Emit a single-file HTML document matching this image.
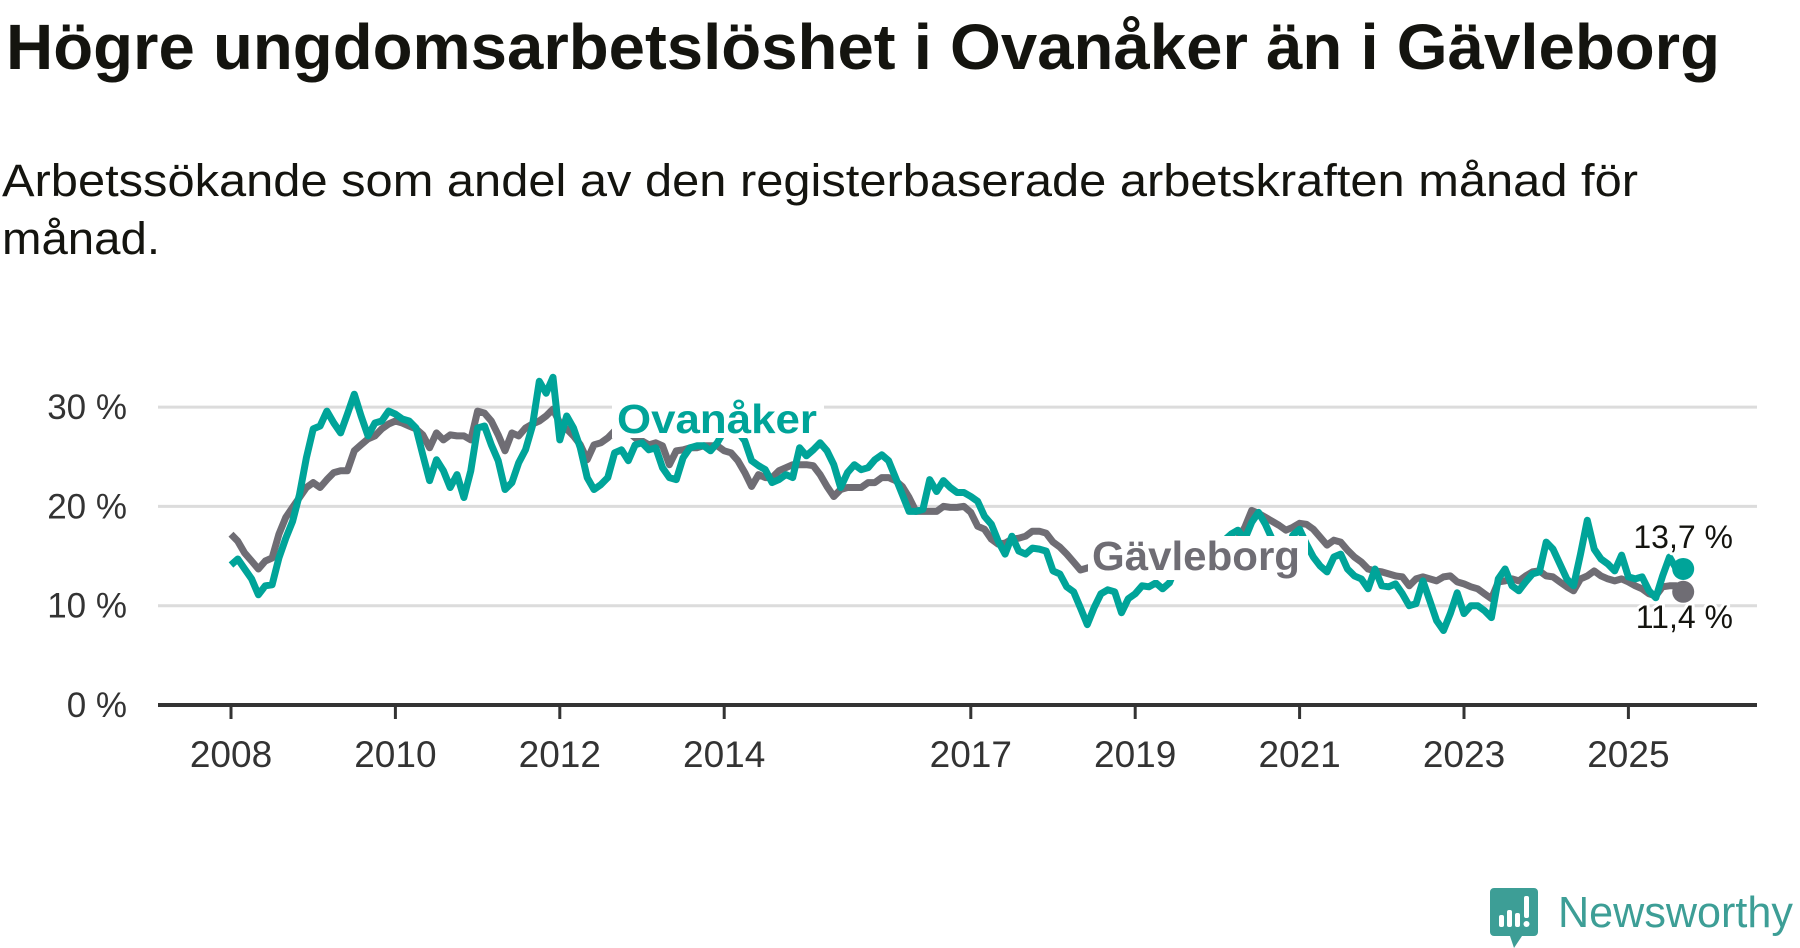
<!DOCTYPE html>
<html><head><meta charset="utf-8">
<style>
html,body{margin:0;padding:0;background:#fff;width:1800px;height:948px;overflow:hidden;}
svg{display:block;font-family:"Liberation Sans",sans-serif;}
</style></head>
<body>
<svg id="chart" width="1800" height="948" viewBox="0 0 1800 948">
  <text x="6" y="69" font-size="64" font-weight="bold" fill="#14140f" textLength="1714" lengthAdjust="spacingAndGlyphs">Högre ungdomsarbetslöshet i Ovanåker än i Gävleborg</text>
  <text x="2" y="196" font-size="45" fill="#14140f" textLength="1636" lengthAdjust="spacingAndGlyphs">Arbetssökande som andel av den registerbaserade arbetskraften månad för</text>
  <text x="2" y="254" font-size="45" fill="#14140f" textLength="158" lengthAdjust="spacingAndGlyphs">månad.</text>
  <g id="grid"></g>
  <g id="yticks"></g>
  <g id="xaxis"></g>
  <g id="series"></g>
  <g id="labels"></g>
  <g>
    <path d="M1494 888 h40 a4 4 0 0 1 4 4 v40 a4 4 0 0 1 -4 4 h-12 l-8 12 l-4 -12 h-16 a4 4 0 0 1 -4 -4 v-40 a4 4 0 0 1 4 -4z" fill="#3d9e96"/>
    <rect x="1499" y="915" width="5" height="12" rx="2" fill="#fff"/>
    <rect x="1507" y="910" width="5" height="17" rx="2" fill="#fff"/>
    <rect x="1515" y="913" width="5" height="14" rx="2" fill="#fff"/>
    <rect x="1524" y="896" width="5" height="22" rx="2" fill="#fff"/>
    <circle cx="1526.5" cy="924" r="3" fill="#fff"/>
    <text x="1558" y="927" font-size="44" fill="#3d9e96" textLength="235" lengthAdjust="spacingAndGlyphs">Newsworthy</text>
  </g>
</svg>
<script>
const startYear = 2008;
const yTicks = [0, 10, 20, 30];
const yTickLabels = ["0 %", "10 %", "20 %", "30 %"];
const xTickYears = [2008, 2010, 2012, 2014, 2017, 2019, 2021, 2023, 2025];
const ovanaker = [
14.1,14.7,13.7,12.7,11.1,12.0,12.1,14.8,16.8,18.5,21.2,24.9,
27.8,28.1,29.6,28.4,27.4,29.3,31.3,29.1,27.1,28.4,28.6,29.6,
29.3,28.8,28.6,27.9,25.2,22.6,24.7,23.6,21.9,23.2,20.9,23.6,
27.9,28.1,26.2,24.6,21.7,22.4,24.4,25.7,28.1,32.6,31.4,33.0,
26.7,29.1,27.9,25.9,22.9,21.7,22.2,22.9,25.4,25.7,24.6,26.2,
26.4,25.7,25.9,23.9,22.9,22.7,24.9,25.9,26.1,26.1,25.6,26.4,
27.6,27.9,27.5,26.6,24.6,24.1,23.7,22.4,22.7,23.2,22.9,25.9,
25.1,25.7,26.4,25.6,24.2,21.9,23.4,24.2,23.7,23.9,24.7,25.2,
24.6,22.9,21.2,19.5,19.5,19.7,22.7,21.5,22.6,21.9,21.4,21.4,
21.0,20.5,19.0,18.2,16.5,15.2,17.0,15.5,15.2,15.8,15.7,15.5,
13.5,13.2,11.9,11.4,9.8,8.1,9.8,11.2,11.6,11.4,9.3,10.7,
11.2,12.0,11.9,12.3,11.7,12.3,14.0,14.4,14.6,14.8,15.0,15.3,
15.6,16.6,17.2,17.6,16.7,18.4,19.4,18.2,16.7,15.5,14.5,17.1,
17.7,16.2,14.9,14.0,13.4,14.9,15.2,13.7,13.0,12.7,11.7,13.7,
12.0,11.9,12.2,11.2,10.0,10.2,12.5,10.5,8.5,7.5,9.2,11.3,
9.2,10.0,10.0,9.5,8.8,12.7,13.7,12.0,11.5,12.4,13.2,13.4,
16.4,15.7,14.2,12.7,12.0,15.2,18.6,15.7,14.7,14.2,13.5,15.1,
12.9,12.7,12.9,11.5,10.8,13.0,14.9,13.7,13.7];
const gavleborg = [
17.2,16.5,15.3,14.5,13.7,14.5,14.8,17.2,18.9,19.9,20.9,21.9,
22.4,21.9,22.7,23.4,23.6,23.6,25.6,26.2,26.8,27.1,27.8,28.3,
28.6,28.4,28.1,27.8,27.2,25.9,27.4,26.7,27.2,27.1,27.1,26.7,
29.6,29.4,28.6,27.2,25.6,27.4,27.1,27.9,28.3,28.6,29.1,29.8,
28.4,27.8,27.1,26.2,24.7,26.2,26.4,26.9,27.6,27.8,27.5,26.9,
26.6,26.2,26.4,26.1,24.2,25.6,25.7,25.9,25.9,26.1,26.1,26.1,
25.6,25.4,24.6,23.4,22.0,23.2,22.9,22.9,23.6,23.9,24.2,24.2,
24.2,24.1,23.2,22.0,21.0,21.7,21.9,21.9,21.9,22.4,22.4,22.9,
22.9,22.6,22.0,20.9,19.5,19.5,19.5,19.5,20.0,19.9,19.9,20.0,
19.4,18.0,17.7,16.7,16.2,16.3,16.7,16.8,17.0,17.5,17.5,17.3,
16.4,15.9,15.2,14.4,13.6,13.8,14.0,14.1,14.2,14.3,14.4,14.5,
14.6,14.7,14.8,14.9,15.0,15.1,15.2,15.3,15.3,15.4,15.4,15.4,
15.5,15.5,15.6,16.7,17.9,19.6,19.3,18.9,18.5,18.1,17.6,17.9,
18.3,18.2,17.7,16.9,16.1,16.6,16.4,15.6,14.9,14.4,13.7,13.5,
13.4,13.2,13.0,12.9,12.0,12.7,12.9,12.7,12.5,12.9,13.0,12.4,
12.2,11.9,11.7,11.2,10.7,12.4,12.5,12.7,12.5,13.0,13.4,13.5,
13.0,12.9,12.4,11.9,11.5,12.7,13.0,13.5,13.0,12.7,12.5,12.7,
12.4,12.0,11.7,11.2,11.0,11.9,12.0,12.0,11.4];

const NS = "http://www.w3.org/2000/svg";
const X0 = 231, PXYEAR = 82.2, Y0 = 705, PXUNIT = 9.93;
const PLOT_L = 158, PLOT_R = 1757;
function xMonth(i){ return X0 + i * PXYEAR / 12; }
function xYear(y){ return X0 + (y - startYear) * PXYEAR; }
function yVal(v){ return Y0 - v * PXUNIT; }
function mk(tag, attrs, parent){
  const e = document.createElementNS(NS, tag);
  for (const k in attrs) e.setAttribute(k, attrs[k]);
  parent.appendChild(e);
  return e;
}
const grid = document.getElementById('grid');
const yt = document.getElementById('yticks');
yTicks.forEach((t, k) => {
  if (t > 0) {
    const l = mk('line', {x1: PLOT_L, x2: PLOT_R, y1: yVal(t), y2: yVal(t), stroke: '#dcdcdc', 'stroke-width': 3}, grid);
    
    
  }
  const tx = mk('text', {x: 127, y: yVal(t) + 12, 'font-size': 35, fill: '#333', 'text-anchor': 'end'}, yt);
  tx.textContent = yTickLabels[k];
  
  
});
const xa = document.getElementById('xaxis');
const axis = mk('line', {x1: PLOT_L, x2: PLOT_R, y1: Y0, y2: Y0, stroke: '#333', 'stroke-width': 4}, xa);


xTickYears.forEach(yr => {
  const x = xYear(yr);
  const tk = mk('line', {x1: x, x2: x, y1: Y0, y2: Y0 + 14, stroke: '#333', 'stroke-width': 3}, xa);
  
  
  const tl = mk('text', {x: x, y: 767, 'font-size': 37, fill: '#333', 'text-anchor': 'middle'}, xa);
  tl.textContent = yr;
  
  
});
const sg = document.getElementById('series');
function linePath(arr){ return arr.map((v, i) => (i ? 'L' : 'M') + xMonth(i).toFixed(1) + ' ' + yVal(v).toFixed(1)).join(' '); }
const gLine = mk('path', {d: linePath(gavleborg), fill: 'none', stroke: '#6f6d74', 'stroke-width': 7, 'stroke-linejoin': 'round'}, sg);


const oLine = mk('path', {d: linePath(ovanaker), fill: 'none', stroke: '#00a499', 'stroke-width': 7, 'stroke-linejoin': 'round'}, sg);


const nG = gavleborg.length - 1, nO = ovanaker.length - 1;
const gDot = mk('circle', {cx: xMonth(nG), cy: yVal(gavleborg[nG]), r: 11, fill: '#6f6d74'}, sg);


const oDot = mk('circle', {cx: xMonth(nO), cy: yVal(ovanaker[nO]), r: 11, fill: '#00a499'}, sg);



const lb = document.getElementById('labels');
const bg1 = mk('rect', {x: 612, y: 398, width: 212, height: 40, fill: '#fff'}, lb);


const bg2 = mk('rect', {x: 1088, y: 536, width: 220, height: 44, fill: '#fff'}, lb);


function halo(txt, attrs, name){
  const t = mk('text', Object.assign({stroke: '#fff', 'stroke-width': 8, 'paint-order': 'stroke', 'stroke-linejoin': 'round'}, attrs), lb);
  t.textContent = txt;
  
  
  return t;
}
halo('Ovanåker', {x: 617, y: 433, 'font-size': 41, 'font-weight': 'bold', fill: '#00a499', textLength: 200, lengthAdjust: 'spacingAndGlyphs'}, 'ovanaker-label');
halo('Gävleborg', {x: 1092, y: 570, 'font-size': 41, 'font-weight': 'bold', fill: '#6f6d74', textLength: 208, lengthAdjust: 'spacingAndGlyphs'}, 'gavleborg-label');
halo('13,7 %', {x: 1733, y: 548, 'font-size': 32, fill: '#14140f', 'text-anchor': 'end', 'stroke-width': 6}, 'ovanaker-end-value');
halo('11,4 %', {x: 1733, y: 628, 'font-size': 32, fill: '#14140f', 'text-anchor': 'end', 'stroke-width': 6}, 'gavleborg-end-value');
</script>
</body></html>
